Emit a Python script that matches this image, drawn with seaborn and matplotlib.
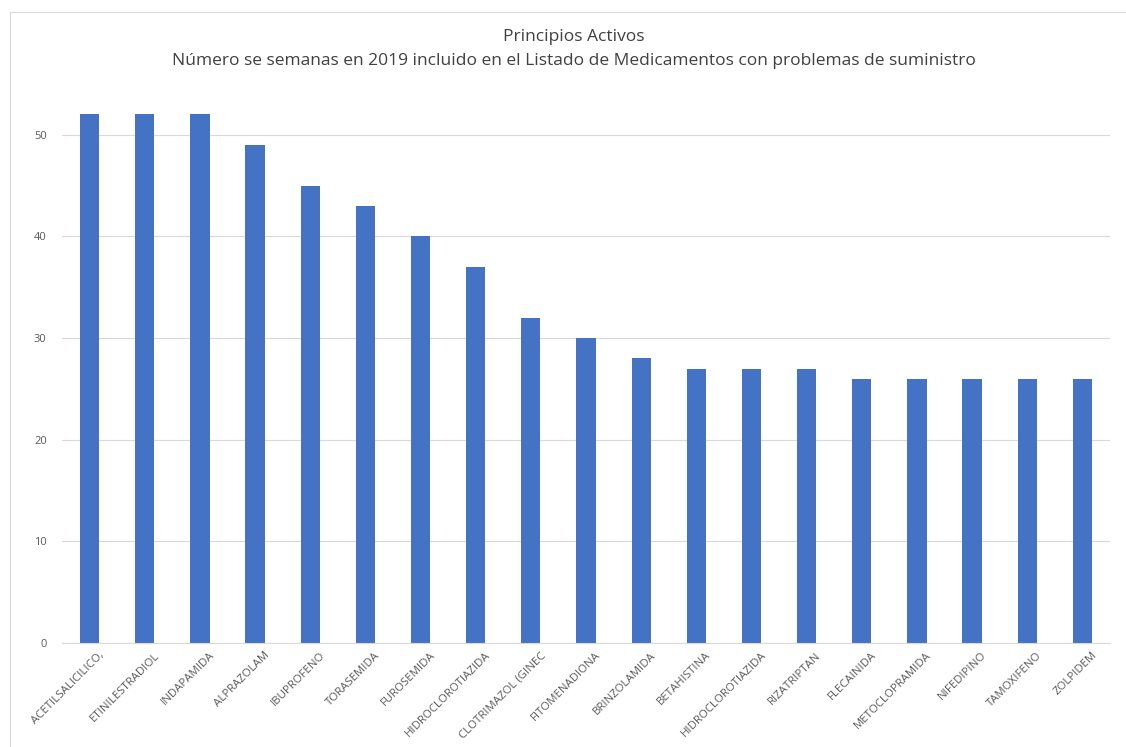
import matplotlib
matplotlib.use("Agg")
import matplotlib.pyplot as plt
import matplotlib.transforms as mtransforms
import seaborn as sns
import pandas as pd
from matplotlib.patches import Rectangle

categories = ["ACETILSALICILICO,", "ETINILESTRADIOL", "INDAPAMIDA", "ALPRAZOLAM",
              "IBUPROFENO", "TORASEMIDA", "FUROSEMIDA", "HIDROCLOROTIAZIDA",
              "CLOTRIMAZOL (GINEC", "FITOMENADIONA", "BRINZOLAMIDA", "BETAHISTINA",
              "HIDROCLOROTIAZIDA", "RIZATRIPTAN", "FLECAINIDA", "METOCLOPRAMIDA",
              "NIFEDIPINO", "TAMOXIFENO", "ZOLPIDEM"]
weeks = [52, 52, 52, 49, 45, 43, 40, 37, 32, 30, 28, 27, 27, 27, 26, 26, 26, 26, 26]
yticks = [0, 10, 20, 30, 40, 50]

sns.set_theme(style="white")
plt.rcParams['font.family'] = ['Open Sans', 'DejaVu Sans']

df = pd.DataFrame({"idx": [str(i) for i in range(len(categories))], "weeks": weeks})

fig = plt.figure(figsize=(11.26, 7.47), dpi=100)
ax = fig.add_axes([62/1126, 1-643/747, (1110-62)/1126, (643-84)/747])
sns.barplot(data=df, x="idx", y="weeks", color="#4472C4", saturation=1,
            width=0.35, linewidth=0, ax=ax)
ax.set_xlim(-0.5, len(categories)-0.5)
ax.set_ylim(0, 55)
ax.set_yticks(yticks)
ax.set_yticklabels([str(v) for v in yticks], fontsize=8, color="#595959")
ax.set_xticks(range(len(categories)))
ax.set_xticklabels(categories, rotation=45, ha="right", rotation_mode="anchor",
                   fontsize=8.2, color="#595959")
ax.tick_params(axis="both", length=0)
ax.tick_params(axis="y", pad=11)
ax.tick_params(axis="x", pad=5)
offset = mtransforms.ScaledTranslation(9/100, 0, fig.dpi_scale_trans)
for lbl in ax.get_xticklabels():
    lbl.set_transform(lbl.get_transform() + offset)
ax.set_xlabel("")
ax.set_ylabel("")
ax.yaxis.grid(True, color="#d9d9d9", linewidth=0.8)
ax.set_axisbelow(True)
for s in ["top", "right", "left"]:
    ax.spines[s].set_visible(False)
ax.spines["bottom"].set_color("#d9d9d9")
ax.spines["bottom"].set_linewidth(0.8)

fig.text(574/1126, 1-37/747, "Principios Activos", ha="center", va="center",
         fontsize=12.5, color="#404040")
fig.text(574/1126, 1-61/747,
         "Número se semanas en 2019 incluido en el Listado de Medicamentos con problemas de suministro",
         ha="center", va="center", fontsize=12.5, color="#404040")

fig.patches.append(Rectangle((10/1126, -0.01), 1.02, 1-12/747+0.01, transform=fig.transFigure,
                             fill=False, edgecolor="#d9d9d9", linewidth=0.8))

fig.savefig("out.png", dpi=100)
